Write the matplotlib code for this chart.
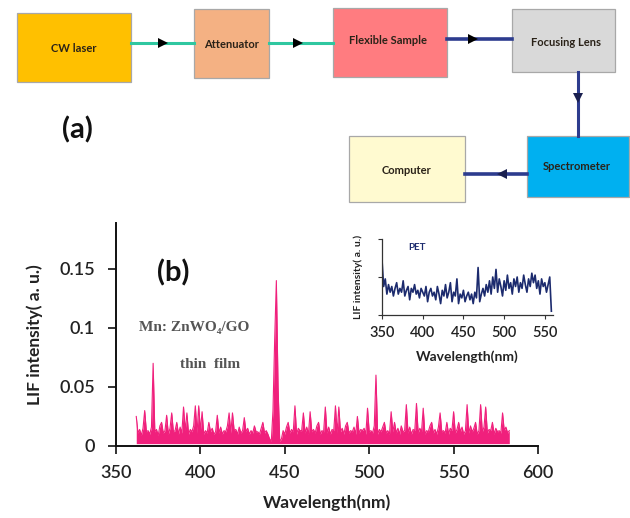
import numpy as np
import matplotlib
matplotlib.use("Agg")
import matplotlib.pyplot as plt
from matplotlib.patches import Rectangle

# ---------------- data ----------------
main_start_nm = 362
main_floor = 0.002
main_lif = [
    0.025, 0.011, 0.014, 0.009, 0.015, 0.030, 0.012, 0.013, 0.010, 0.016,
    0.070, 0.012, 0.014, 0.009, 0.017, 0.020, 0.011, 0.013, 0.026, 0.010,
    0.015, 0.028, 0.012, 0.013, 0.020, 0.010, 0.016, 0.011, 0.033, 0.013,
    0.028, 0.010, 0.014, 0.012, 0.017, 0.034, 0.011, 0.034, 0.013, 0.029,
    0.010, 0.013, 0.011, 0.020, 0.012, 0.015, 0.010, 0.012, 0.026, 0.011,
    0.016, 0.010, 0.013, 0.012, 0.017, 0.028, 0.011, 0.028, 0.013, 0.014,
    0.010, 0.016, 0.011, 0.013, 0.024, 0.012, 0.015, 0.010, 0.013, 0.011,
    0.017, 0.012, 0.012, 0.010, 0.015, 0.020, 0.011, 0.013, 0.010, 0.006,
    0.004, 0.030, 0.090, 0.140, 0.050, 0.004, 0.006, 0.013, 0.010, 0.016,
    0.020, 0.011, 0.014, 0.012, 0.034, 0.010, 0.015, 0.013, 0.013, 0.028,
    0.011, 0.016, 0.010, 0.029, 0.012, 0.014, 0.011, 0.017, 0.020, 0.010,
    0.013, 0.012, 0.033, 0.011, 0.016, 0.010, 0.014, 0.013, 0.034, 0.011,
    0.033, 0.012, 0.015, 0.010, 0.017, 0.020, 0.011, 0.013, 0.012, 0.016,
    0.010, 0.025, 0.011, 0.014, 0.013, 0.015, 0.010, 0.032, 0.012, 0.013,
    0.011, 0.017, 0.060, 0.010, 0.014, 0.012, 0.016, 0.020, 0.011, 0.013,
    0.010, 0.029, 0.012, 0.020, 0.011, 0.015, 0.010, 0.017, 0.012, 0.013,
    0.035, 0.011, 0.016, 0.010, 0.014, 0.013, 0.036, 0.011, 0.015, 0.012,
    0.032, 0.010, 0.013, 0.012, 0.017, 0.020, 0.011, 0.014, 0.010, 0.016,
    0.028, 0.012, 0.013, 0.011, 0.020, 0.010, 0.015, 0.013, 0.029, 0.011,
    0.014, 0.020, 0.012, 0.016, 0.010, 0.013, 0.035, 0.011, 0.017, 0.012,
    0.015, 0.020, 0.010, 0.013, 0.035, 0.012, 0.016, 0.033, 0.011, 0.014,
    0.013, 0.020, 0.010, 0.015, 0.012, 0.013, 0.011, 0.028, 0.013, 0.016,
    0.011, 0.013,
]
main_nm = main_start_nm + np.arange(len(main_lif))

inset_start_nm = 350
inset_step_nm = 2
inset_lif = [
    1.45, 0.75, 0.95, 0.55, 0.80, 0.60, 0.75, 0.50, 0.70, 0.85,
    0.55, 0.70, 0.60, 0.90, 0.50, 0.65, 0.75, 0.40, 0.70, 0.60,
    0.80, 0.55, 0.65, 0.45, 0.70, 0.60, 0.50, 0.75, 0.35, 0.60,
    0.70, 0.50, 0.60, 0.40, 0.75, 0.55, 0.30, 0.65, 0.50, 0.80,
    0.45, 0.60, 0.85, 0.35, 0.60, 0.50, 0.95, 0.30, 0.55, 0.45,
    0.65, 0.35, 0.50, 0.60, 0.40, 0.55, 0.30, 0.60, 0.45, 1.25,
    0.35, 0.55, 0.70, 0.50, 0.80, 0.60, 0.90, 0.55, 1.00, 0.70,
    1.20, 0.60, 0.95, 0.75, 0.50, 0.90, 0.65, 1.05, 0.70, 0.85,
    0.55, 0.95, 0.75, 1.00, 0.60, 0.85, 0.70, 1.05, 0.80, 0.60,
    0.95, 0.75, 1.10, 0.85, 1.05, 0.70, 0.90, 0.55, 0.95, 0.75,
    0.85, 0.60, 0.80, 1.00, 0.10,
]
inset_nm = inset_start_nm + inset_step_nm * np.arange(len(inset_lif))

main_xticks = [350, 400, 450, 500, 550, 600]
main_yticks = [0, 0.05, 0.1, 0.15]
main_yticklabels = ["0", "0.05", "0.1", "0.15"]
inset_xticks = [350, 400, 450, 500, 550]

boxes = [
    ("CW laser", "#ffc000"),
    ("Attenuator", "#f4b183"),
    ("Flexible Sample", "#ff7c80"),
    ("Focusing Lens", "#d9d9d9"),
    ("Spectrometer", "#00b0f0"),
    ("Computer", "#fffad0"),
]

SANS = ["Lato", "DejaVu Sans"]
SERIF = ["Liberation Serif", "DejaVu Serif"]

W, H = 630, 518
fig = plt.figure(figsize=(W / 100, H / 100), dpi=100)

def fr(x0, y0, x1, y1):
    return [x0 / W, 1 - y1 / H, (x1 - x0) / W, (y1 - y0) / H]

# ---------------- main spectrum ----------------
pink = "#f0207c"
ax = fig.add_axes(fr(116, 222.7, 538, 446))
ax.fill_between(main_nm, main_floor, main_lif, color=pink, lw=0)
ax.plot(main_nm, main_lif, color=pink, lw=0.8)
ax.set_xlim(350, 600)
ax.set_ylim(0, 0.189)
ax.set_xticks(main_xticks)
ax.set_yticks(main_yticks)
ax.set_yticklabels(main_yticklabels)
for s in ("top", "right"):
    ax.spines[s].set_visible(False)
for s in ("left", "bottom"):
    ax.spines[s].set_linewidth(1.4)
    ax.spines[s].set_color("#111111")
ax.tick_params(axis="both", direction="out", length=6, width=1.2, color="#111111")
ax.tick_params(axis="x", pad=8)
ax.tick_params(axis="y", pad=9)
for lab in ax.get_xticklabels() + ax.get_yticklabels():
    lab.set_fontfamily(SANS)
    lab.set_fontsize(13)
    lab.set_fontweight("semibold")
    lab.set_color("#222222")
ax.set_xlabel("Wavelength(nm)", fontfamily=SANS, fontsize=12.5, fontweight="bold",
              color="#222222", labelpad=9)
ax.set_ylabel("LIF intensity( a. u.)", fontfamily=SANS, fontsize=12.5, fontweight="bold",
              color="#222222", labelpad=12)

# ---------------- inset ----------------
axi = fig.add_axes(fr(382, 239, 553, 315))
axi.plot(inset_nm, inset_lif, color="#1c2b6e", lw=1.2)
axi.set_xlim(350, 560)
axi.set_ylim(0, 2)
axi.set_xticks(inset_xticks)
axi.set_yticks([0, 1, 2])
axi.set_yticklabels([])
axi.patch.set_alpha(0)
for s in ("top", "right"):
    axi.spines[s].set_visible(False)
for s in ("left", "bottom"):
    axi.spines[s].set_linewidth(0.9)
    axi.spines[s].set_color("#333333")
axi.tick_params(axis="both", direction="out", length=3, width=0.8, color="#333333", pad=5)
for lab in axi.get_xticklabels():
    lab.set_fontfamily(SANS)
    lab.set_fontsize(10.5)
    lab.set_fontweight("semibold")
    lab.set_color("#222222")
axi.set_xlabel("Wavelength(nm)", fontfamily=SANS, fontsize=10, fontweight="bold",
               color="#222222", labelpad=7)
axi.set_ylabel("LIF intensity( a. u.)", fontfamily=SANS, fontsize=7.5, fontweight="bold",
               color="#222222", labelpad=6)

# ---------------- overlay (diagram + labels) ----------------
ov = fig.add_axes([0, 0, 1, 1], zorder=10)
ov.set_xlim(0, W)
ov.set_ylim(H, 0)
ov.axis("off")
ov.patch.set_alpha(0)

box_geom = [  # x0, y0, x1, y1, text centre x, text centre y
    (17, 13, 131, 82, 74, 48),
    (194, 9, 269, 78, 231, 45),
    (333, 8, 447, 77, 388, 40),
    (512, 9, 615, 72, 566, 42),
    (527, 136, 629, 197, 577, 167),
    (349, 136, 465, 202, 407, 171),
]
for (label, col), (x0, y0, x1, y1, tx, ty) in zip(boxes, box_geom):
    ov.add_patch(Rectangle((x0, y0), x1 - x0, y1 - y0, facecolor=col,
                           edgecolor="#a8a8a8", lw=0.9))
    ov.text(tx, ty, label, ha="center", va="center", fontfamily=SANS,
            fontsize=8, fontweight="bold", color="#2a2218")

green = "#2fc7a0"
blue = "#2d3c8e"
ov.plot([131, 194], [43, 43], color=green, lw=2.2)
ov.plot([269, 333], [43, 43], color=green, lw=2.2)
ov.plot([447, 512], [39, 39], color=blue, lw=2.6)
ov.plot([578, 578], [72, 136], color=blue, lw=2.2)
ov.plot([465, 527], [174, 174], color=blue, lw=2.6)
ov.plot([163], [43], marker=">", color="black", ms=7, mew=0)
ov.plot([298], [43], marker=">", color="black", ms=7, mew=0)
ov.plot([473], [39], marker=">", color="black", ms=7, mew=0)
ov.plot([578], [98], marker="v", color="#1a2050", ms=7, mew=0)
ov.plot([502], [174], marker="<", color="#1a2050", ms=7, mew=0)

ov.text(77, 130, "(a)", ha="center", va="center", fontfamily=SANS, fontsize=21,
        fontweight="bold", color="#111111")
ov.text(173, 273, "(b)", ha="center", va="center", fontfamily=SANS, fontsize=21,
        fontweight="bold", color="#111111")
ov.text(139, 328, "Mn: ZnWO₄/GO", ha="left", va="center", fontfamily=SERIF,
        fontsize=11, fontweight="bold", color="#555555")
ov.text(180, 364, "thin  film", ha="left", va="center", fontfamily=SERIF,
        fontsize=11, fontweight="bold", color="#555555")
ov.text(417, 248, "PET", ha="center", va="center", fontfamily=SANS,
        fontsize=7, fontweight="bold", color="#1c2b6e")

fig.savefig("out.png", dpi=100)
